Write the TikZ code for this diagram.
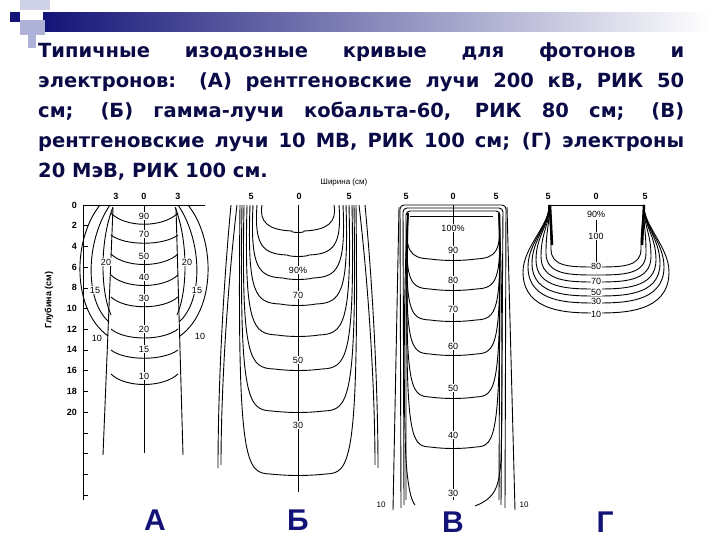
\documentclass[tikz,border=0pt]{standalone}
\usepackage{fontspec}
\setmainfont{Liberation Sans}
\newfontfamily\titlefont{DejaVu Sans}
\begin{document}
\begin{tikzpicture}[x=1pt,y=-1pt,
  crv/.style={line width=0.9pt},
  lbl/.style={font=\fontsize{9}{10}\selectfont, fill=white, inner sep=0.5pt},
  tk/.style={font=\fontsize{9}{10}\selectfont\bfseries, inner sep=0pt},
  big/.style={font=\fontsize{30}{32}\selectfont\bfseries, text=navy}]
\definecolor{navy}{RGB}{20,20,120}
\definecolor{tnavy}{RGB}{10,10,70}
\definecolor{lblue}{RGB}{175,178,215}
\useasboundingbox (0,0) rectangle (720,540);
% decoration
\shade[left color=navy, right color=white] (43,13) rectangle (710,32);
\fill[lblue!60] (20,0) rectangle (50,10);
\fill[lblue] (20,20) rectangle (45,35);
\fill[lblue] (28,35) rectangle (36,48);
\fill[navy] (10,12) rectangle (20,22);
% title
\node[anchor=north west, inner sep=0pt, text width=646pt, align=justify, text=tnavy,
  font=\titlefont\bfseries\fontsize{19.5}{30}\selectfont] (title) at (38,42)
 {Типичные изодозные кривые для фотонов и\linebreak электронов: (А) рентгеновские лучи 200 кВ, РИК 50\linebreak см; (Б) гамма-лучи кобальта-60, РИК 80 см; (В)\linebreak рентгеновские лучи 10 МВ, РИК 100 см; (Г) электроны\linebreak 20 МэВ, РИК 100 см.};
\node[font=\fontsize{8}{9}\selectfont] (sh) at (344,182) {Ширина (см)};
% ===== Panel A =====
\draw[crv] (83,205) -- (205,205);
\draw[crv] (83,205) -- (83,500);
\foreach \i in {0,...,14} \draw (83,205+20.7*\i) -- (88,205+20.7*\i);
\foreach \v/\i in {0/0,2/1,4/2,6/3,8/4,10/5,12/6,14/7,16/8,18/9,20/10}
  \node[tk, anchor=east] at (77,205+20.7*\i) {\v};
\node[rotate=90, font=\fontsize{9}{10}\selectfont\bfseries] (glub) at (49,300) {Глубина (см)};
\node[tk] at (116,196) {3}; \node[tk] at (144,196) {0}; \node[tk] at (178,196) {3};
\draw[crv] (144,205) -- (144,453);
\draw[crv] (113,208) -- (103,455);
\draw[crv] (176,208) -- (183,455);
\foreach \e/\c/\t in {213/228/90,235/246/70,254/268/50,275/289/40,297/310/30,329/341/20,350/361/15,374/388/10}{
  \draw[crv] (111,\e) .. controls (125,\c) and (163,\c) .. (178,\e);
  \node[lbl] at (144,\c-12) {\t};}
% side loops
\foreach \s in {1,-1}{
 \begin{scope}[xshift=144pt, xscale=\s]
  \draw[crv] (-31,207) .. controls (-44,240) and (-44,290) .. (-33,315);
  \draw[crv] (-34,205) .. controls (-58,240) and (-60,300) .. (-35,322);
  \draw[crv] (-44,205) .. controls (-72,240) and (-72,310) .. (-36,336);
 \end{scope}}
\node[lbl] at (106,262) {20}; \node[lbl] at (187,262) {20};
\node[lbl] at (95,290) {15}; \node[lbl] at (197,290) {15};
\node[lbl] at (97,338) {10}; \node[lbl] at (200,336) {10};
\node[big] (A) at (155,520) {А};
% ===== Panel B =====
\node[tk] at (251,196) {5}; \node[tk] at (299,196) {0}; \node[tk] at (349,196) {5};
\draw[crv] (298,205) -- (298,492);
\draw[crv] (237,205) .. controls (226,300) and (221,400) .. (221,465);
\draw[crv] (231,205) .. controls (222,300) and (218,400) .. (218,468);
\draw[crv] (359,205) .. controls (370,300) and (375,400) .. (375,465);
\draw[crv] (365,205) .. controls (374,300) and (378,400) .. (378,468);
\foreach \xl/\yb in {262/232,257/256,253/279,250/305,247/336,244/370,242/412,240/475}{
  \pgfmathsetmacro\xr{596-\xl}
  \draw[crv] (\xl,205) .. controls (\xl-3,\yb-10) and (\xl+6,\yb-2) .. (\xl+30,\yb-1)
     .. controls (290,\yb+1) and (306,\yb+1) .. (\xr-30,\yb-1)
     .. controls (\xr-6,\yb-2) and (\xr+3,\yb-10) .. (\xr,205);}
\foreach \y/\t in {270/90\%,295/70,360/50,425/30} \node[lbl] at (298,\y) {\t};
\node[big] (B) at (298,520) {Б};
% ===== Panel V =====
\node[tk] at (406,196) {5}; \node[tk] at (453,196) {0}; \node[tk] at (496,196) {5};
\draw[crv] (453,205) -- (453,500);
\draw[crv, rounded corners=4pt] (401,508) -- (400,205) -- (506,205) -- (505,508);
\draw[crv, rounded corners=4pt] (404,505) -- (403,208) -- (503,208) -- (501,505);
\draw[crv, rounded corners=4pt] (406,500) -- (406,211) -- (500,211) -- (499,500);
\draw[crv] (399,207) -- (393,510);
\draw[crv] (507,207) -- (515,510);
\node[tk, font=\fontsize{8}{9}\selectfont] at (381,505) {10};
\node[tk, font=\fontsize{8}{9}\selectfont] at (524,505) {10};
\foreach \yb in {260,290,321,355,398,448}{
  \draw[crv] (408,213) .. controls (404,\yb-8) and (410,\yb-2) .. (430,\yb-1)
     .. controls (445,\yb+1) and (461,\yb+1) .. (476,\yb-1)
     .. controls (496,\yb-2) and (502,\yb-8) .. (499,213);}
\draw[crv] (408,213) .. controls (404,260) and (403,400) .. (406,460) .. controls (408,490) and (412,502) .. (415,505);
\draw[crv] (499,213) .. controls (502,260) and (503,400) .. (501,460) .. controls (499,488) and (495,498) .. (475,506);
\draw[crv] (410,216) -- (493,216);
\foreach \y/\t in {228/100\%,250/90,280/80,309/70,346/60,388/50,435/40,493/30} \node[lbl] at (453,\y) {\t};
\node[big] (V) at (453,522) {В};
% ===== Panel G =====
\node[tk] at (548,196) {5}; \node[tk] at (596,196) {0}; \node[tk] at (645,196) {5};
\draw[crv] (548,205) -- (645,205);
\draw[crv] (596,220) -- (596,267);
\foreach \yb/\lx in {267/551,275/546,282/541,289/536,296/532,303/528,313/523}{
  \pgfmathsetmacro\rx{1192-\lx}
  \pgfmathsetmacro\ym{0.5*(215+\yb)+8}
  \draw[crv] (549,205) .. controls (550,225) and (\lx,\ym-25) .. (\lx,\ym)
     .. controls (\lx,\yb) and (570,\yb) .. (596,\yb)
     .. controls (622,\yb) and (\rx,\yb) .. (\rx,\ym)
     .. controls (\rx,\ym-25) and (643,225) .. (644,205);}
\draw[line width=2.5pt] (550,205) -- (552,245);
\draw[line width=2.5pt] (644,205) -- (642,245);
\foreach \y/\t in {214/90\%,236/100,266/80,281/70,292/50,301/30,314/10} \node[lbl] at (596,\y) {\t};
\node[big] (G) at (605,522) {Г};
\end{tikzpicture}
\end{document}
